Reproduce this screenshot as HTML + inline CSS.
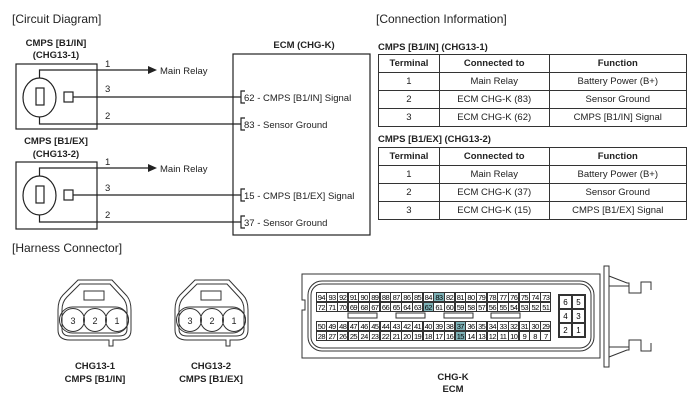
<!DOCTYPE html>
<html><head><meta charset="utf-8"><style>
body{margin:0;width:700px;height:406px;background:#fff;position:relative;font-family:"Liberation Sans",sans-serif;overflow:hidden}
.grid{position:absolute;left:316px;width:235px;display:flex;flex-direction:column;font-size:7.5px;letter-spacing:-0.6px}
.grid div{display:flex;height:10px}
.grid span{flex:1;border:0.7px solid #333;margin:-0.35px;text-align:center;line-height:9.5px;overflow:hidden}
.h{background:#7fb3b8}
table.c{position:absolute;left:378px;width:309px;border-collapse:collapse;font-size:9.5px;color:#222}
table.c td{border:1px solid #333;height:17px;text-align:center;padding:0}
table.c tr:first-child td{font-weight:bold}
.six{position:absolute;left:558px;top:294px;display:grid;grid-template-columns:13px 13px;grid-template-rows:14px 14px 14px;border:0.8px solid #333;font-size:8px}
.six span{border:0.7px solid #333;text-align:center;line-height:13px}
</style></head><body>
<svg width="700" height="406" style="position:absolute;left:0;top:0" font-family="Liberation Sans,sans-serif">
<g fill="none" stroke="#222" stroke-width="1.2">
<rect x="16" y="64" width="81" height="65"/>
<rect x="16" y="162" width="81" height="67"/>
<rect x="233" y="54" width="137" height="181"/>
<ellipse cx="39.5" cy="97.5" rx="16.5" ry="19.5"/><rect x="36" y="88" width="8" height="17"/><rect x="64" y="92" width="9" height="10"/>
<polyline points="39.5,78 39.5,70 150,70"/><polyline points="73,97 241,97"/><polyline points="39.5,117 39.5,124 241,124"/>
<ellipse cx="39.5" cy="195.5" rx="16.5" ry="19.5"/><rect x="36" y="186" width="8" height="17"/><rect x="64" y="190" width="9" height="10"/>
<polyline points="39.5,176 39.5,168 150,168"/><polyline points="73,195 241,195"/><polyline points="39.5,215 39.5,222 241,222"/>
<polyline points="245,91 241,91 241,103 245,103"/><polyline points="245,118 241,118 241,130 245,130"/>
<polyline points="245,189 241,189 241,201 245,201"/><polyline points="245,216 241,216 241,228 245,228"/>
</g>
<polygon points="148,66 157,70 148,74" fill="#222"/><polygon points="148,164 157,168 148,172" fill="#222"/>
<g font-size="9.5" fill="#222">
<text x="105" y="67">1</text><text x="105" y="92">3</text><text x="105" y="119">2</text>
<text x="105" y="165">1</text><text x="105" y="191">3</text><text x="105" y="218">2</text>
<text x="160" y="74">Main Relay</text><text x="160" y="172">Main Relay</text>
<text x="244" y="101">62 - CMPS [B1/IN] Signal</text><text x="244" y="128">83 - Sensor Ground</text>
<text x="244" y="199">15 - CMPS [B1/EX] Signal</text><text x="244" y="226">37 - Sensor Ground</text>
</g>
<g font-size="9.5" font-weight="bold" fill="#222" text-anchor="middle">
<text x="56" y="46">CMPS [B1/IN]</text><text x="56" y="58">(CHG13-1)</text>
<text x="56" y="144">CMPS [B1/EX]</text><text x="56" y="157">(CHG13-2)</text>
<text x="304" y="48">ECM (CHG-K)</text>
<text x="95" y="369">CHG13-1</text><text x="95" y="382">CMPS [B1/IN]</text>
<text x="211" y="369">CHG13-2</text><text x="211" y="382">CMPS [B1/EX]</text>
<text x="453" y="380">CHG-K</text><text x="453" y="392">ECM</text>
</g>
<g font-size="12" fill="#222"><text x="12" y="23">[Circuit Diagram]</text><text x="376" y="23">[Connection Information]</text><text x="12" y="252">[Harness Connector]</text></g>
<g font-size="9.5" font-weight="bold" fill="#222"><text x="378" y="50">CMPS [B1/IN] (CHG13-1)</text><text x="378" y="142">CMPS [B1/EX] (CHG13-2)</text></g>
<g fill="none" stroke="#333" stroke-width="1">
<g id="h1">
<path d="M78,280 L112,280 L126,295 Q131,300 131,310 L131,330 Q131,340 120,340 L113,340 L113,346 L109,346 L109,340 L70,340 Q58,340 58,330 L58,310 Q58,300 63,295 Z"/>
<path d="M80,284 L110,284 L122,297 Q127,302 127,310 L127,329 Q127,336 119,336 L70,336 Q62,336 62,329 L62,310 Q62,302 67,297 Z"/>
<rect x="84" y="291" width="20" height="9"/>
<rect x="59.5" y="307" width="69" height="26" rx="13"/>
<circle cx="73" cy="320" r="11.5"/><circle cx="95" cy="320" r="11.5"/><circle cx="117" cy="320" r="11.5"/>
</g>
<use href="#h1" x="117"/>
</g>
<g font-size="9" fill="#222" text-anchor="middle"><text x="73" y="324">3</text><text x="95" y="324">2</text><text x="117" y="324">1</text><text x="190" y="324">3</text><text x="212" y="324">2</text><text x="234" y="324">1</text></g>
<g fill="none" stroke="#333" stroke-width="1">
<path d="M302,274 L600,274 L600,358 L302,358 L302,310 L305,310 L305,300 L302,300 Z"/>
<rect x="308" y="281" width="286" height="70" rx="14"/><rect x="311" y="284" width="280" height="64" rx="11"/>
<rect x="604" y="266" width="5" height="101"/>
<polyline points="609,276 627,283 629,283 629,293 641,293 641,282 651,282 651,290"/><line x1="609" y1="286" x2="629" y2="286"/>
<polyline points="609,357 627,350 629,350 629,340 641,340 641,351 651,351 651,343"/><line x1="609" y1="347" x2="629" y2="347"/>
<rect x="348" y="313" width="29" height="5"/><rect x="396" y="313" width="29" height="5"/><rect x="444" y="313" width="29" height="5"/><rect x="491" y="313" width="29" height="5"/>
</g>
</svg>
<div class="grid" style="top:292px">
<div><span>94</span><span>93</span><span>92</span><span>91</span><span>90</span><span>89</span><span>88</span><span>87</span><span>86</span><span>85</span><span>84</span><span class="h">83</span><span>82</span><span>81</span><span>80</span><span>79</span><span>78</span><span>77</span><span>76</span><span>75</span><span>74</span><span>73</span></div>
<div><span>72</span><span>71</span><span>70</span><span>69</span><span>68</span><span>67</span><span>66</span><span>65</span><span>64</span><span>63</span><span class="h">62</span><span>61</span><span>60</span><span>59</span><span>58</span><span>57</span><span>56</span><span>55</span><span>54</span><span>53</span><span>52</span><span>51</span></div>
</div>
<div class="grid" style="top:321px">
<div><span>50</span><span>49</span><span>48</span><span>47</span><span>46</span><span>45</span><span>44</span><span>43</span><span>42</span><span>41</span><span>40</span><span>39</span><span>38</span><span class="h">37</span><span>36</span><span>35</span><span>34</span><span>33</span><span>32</span><span>31</span><span>30</span><span>29</span></div>
<div><span>28</span><span>27</span><span>26</span><span>25</span><span>24</span><span>23</span><span>22</span><span>21</span><span>20</span><span>19</span><span>18</span><span>17</span><span>16</span><span class="h">15</span><span>14</span><span>13</span><span>12</span><span>11</span><span>10</span><span>9</span><span>8</span><span>7</span></div>
</div>
<div class="six"><span>6</span><span>5</span><span>4</span><span>3</span><span>2</span><span>1</span></div>
<table class="c" style="top:54px">
<colgroup><col style="width:61px"><col style="width:110px"><col style="width:138px"></colgroup>
<tr><td>Terminal</td><td>Connected to</td><td>Function</td></tr>
<tr><td>1</td><td>Main Relay</td><td>Battery Power (B+)</td></tr>
<tr><td>2</td><td>ECM CHG-K (83)</td><td>Sensor Ground</td></tr>
<tr><td>3</td><td>ECM CHG-K (62)</td><td>CMPS [B1/IN] Signal</td></tr>
</table>
<table class="c" style="top:147px">
<colgroup><col style="width:61px"><col style="width:110px"><col style="width:138px"></colgroup>
<tr><td>Terminal</td><td>Connected to</td><td>Function</td></tr>
<tr><td>1</td><td>Main Relay</td><td>Battery Power (B+)</td></tr>
<tr><td>2</td><td>ECM CHG-K (37)</td><td>Sensor Ground</td></tr>
<tr><td>3</td><td>ECM CHG-K (15)</td><td>CMPS [B1/EX] Signal</td></tr>
</table>
</body></html>
